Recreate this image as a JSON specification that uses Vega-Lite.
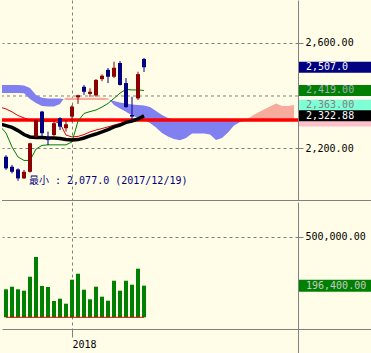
{
  "$schema": "https://vega.github.io/schema/vega-lite/v6.json",
  "padding": 0,
  "background": "#fffde7",
  "spacing": 0,
  "config": {
    "view": {"stroke": null},
    "axis": {"labelFont": "DejaVu Sans Mono", "labelFontSize": 10, "labelColor": "#000000", "domainColor": "#808080", "tickColor": "#808080", "gridColor": "#808080", "gridDash": [3, 3], "gridOpacity": 1}
  },
  "datasets": {
    "candles": [
      {"idx": 0, "date": "2017-12-15", "open": 2168, "high": 2174, "low": 2118, "close": 2124, "vol": 173700},
      {"idx": 1, "date": "2017-12-18", "open": 2130, "high": 2137, "low": 2105, "close": 2111, "vol": 189800},
      {"idx": 2, "date": "2017-12-19", "open": 2120, "high": 2124, "low": 2077, "close": 2086, "vol": 173700},
      {"idx": 3, "date": "2017-12-20", "open": 2086, "high": 2118, "low": 2084, "close": 2111, "vol": 165000},
      {"idx": 4, "date": "2017-12-21", "open": 2111, "high": 2221, "low": 2108, "close": 2219, "vol": 251800},
      {"idx": 5, "date": "2017-12-22", "open": 2244, "high": 2310, "low": 2242, "close": 2307, "vol": 374000},
      {"idx": 6, "date": "2017-12-25", "open": 2339, "high": 2342, "low": 2244, "close": 2257, "vol": 194200},
      {"idx": 7, "date": "2017-12-26", "open": 2238, "high": 2263, "low": 2212, "close": 2231, "vol": 188000},
      {"idx": 8, "date": "2017-12-27", "open": 2250, "high": 2307, "low": 2247, "close": 2295, "vol": 101100},
      {"idx": 9, "date": "2017-12-28", "open": 2314, "high": 2317, "low": 2269, "close": 2282, "vol": 115400},
      {"idx": 10, "date": "2017-12-29", "open": 2276, "high": 2307, "low": 2263, "close": 2291, "vol": 84400},
      {"idx": 11, "date": "2018-01-04", "open": 2320, "high": 2364, "low": 2301, "close": 2358, "vol": 233200},
      {"idx": 12, "date": "2018-01-05", "open": 2393, "high": 2403, "low": 2368, "close": 2401, "vol": 270400},
      {"idx": 13, "date": "2018-01-09", "open": 2433, "high": 2440, "low": 2402, "close": 2414, "vol": 171200},
      {"idx": 14, "date": "2018-01-10", "open": 2406, "high": 2427, "low": 2395, "close": 2414, "vol": 111700},
      {"idx": 15, "date": "2018-01-11", "open": 2400, "high": 2462, "low": 2395, "close": 2459, "vol": 189800},
      {"idx": 16, "date": "2018-01-12", "open": 2462, "high": 2480, "low": 2454, "close": 2475, "vol": 127800},
      {"idx": 17, "date": "2018-01-15", "open": 2497, "high": 2504, "low": 2447, "close": 2471, "vol": 103000},
      {"idx": 18, "date": "2018-01-16", "open": 2471, "high": 2528, "low": 2466, "close": 2505, "vol": 227000},
      {"idx": 19, "date": "2018-01-17", "open": 2523, "high": 2531, "low": 2438, "close": 2440, "vol": 165000},
      {"idx": 20, "date": "2018-01-18", "open": 2447, "high": 2466, "low": 2354, "close": 2356, "vol": 227000},
      {"idx": 21, "date": "2018-01-19", "open": 2326, "high": 2395, "low": 2301, "close": 2320, "vol": 202200},
      {"idx": 22, "date": "2018-01-22", "open": 2389, "high": 2490, "low": 2383, "close": 2481, "vol": 301500},
      {"idx": 23, "date": "2018-01-23", "open": 2538, "high": 2542, "low": 2489, "close": 2507, "vol": 196400}
    ],
    "lines": [
      {"idx": -1, "black": 2292, "red": 2356, "green": 2284},
      {"idx": 0, "black": 2286, "red": 2349, "green": 2258},
      {"idx": 1, "black": 2279, "red": 2338, "green": 2205},
      {"idx": 2, "black": 2267, "red": 2324, "green": 2167},
      {"idx": 3, "black": 2252, "red": 2315, "green": 2154},
      {"idx": 4, "black": 2243, "red": 2307, "green": 2154},
      {"idx": 5, "black": 2241, "red": 2303, "green": 2197},
      {"idx": 6, "black": 2241, "red": 2303, "green": 2211},
      {"idx": 7, "black": 2239, "red": 2302, "green": 2213},
      {"idx": 8, "black": 2239, "red": 2302, "green": 2213},
      {"idx": 9, "black": 2237, "red": 2294, "green": 2213},
      {"idx": 10, "black": 2233, "red": 2250, "green": 2213},
      {"idx": 11, "black": 2231, "red": 2243, "green": 2224},
      {"idx": 12, "black": 2233, "red": 2245, "green": 2303},
      {"idx": 13, "black": 2239, "red": 2252, "green": 2332},
      {"idx": 14, "black": 2247, "red": 2262, "green": 2339},
      {"idx": 15, "black": 2254, "red": 2269, "green": 2345},
      {"idx": 16, "black": 2262, "red": 2275, "green": 2356},
      {"idx": 17, "black": 2271, "red": 2281, "green": 2370},
      {"idx": 18, "black": 2281, "red": 2288, "green": 2389},
      {"idx": 19, "black": 2288, "red": 2294, "green": 2409},
      {"idx": 20, "black": 2298, "red": 2300, "green": 2423},
      {"idx": 21, "black": 2303, "red": 2303, "green": 2421},
      {"idx": 22, "black": 2311, "red": 2307, "green": 2421},
      {"idx": 23, "black": 2322.88, "red": 2309, "green": 2419}
    ],
    "cloud": [
      {"idx": -1, "top": 2440, "bot": 2409, "seg": "b1"},
      {"idx": 0, "top": 2440, "bot": 2409, "seg": "b1"},
      {"idx": 1, "top": 2440, "bot": 2409, "seg": "b1"},
      {"idx": 2, "top": 2440, "bot": 2409, "seg": "b1"},
      {"idx": 3, "top": 2438, "bot": 2408, "seg": "b1"},
      {"idx": 4, "top": 2428, "bot": 2387, "seg": "b1"},
      {"idx": 5, "top": 2402, "bot": 2372, "seg": "b1"},
      {"idx": 6, "top": 2391, "bot": 2360, "seg": "b1"},
      {"idx": 7, "top": 2389, "bot": 2358, "seg": "b1"},
      {"idx": 8, "top": 2389, "bot": 2358, "seg": "b1"},
      {"idx": 9, "top": 2389, "bot": 2368, "seg": "b1"},
      {"idx": 9.6, "top": 2387, "bot": 2387, "seg": "b1"},
      {"idx": 9.6, "top": 2387, "bot": 2387, "seg": "s1"},
      {"idx": 10, "top": 2391, "bot": 2383, "seg": "s1"},
      {"idx": 11, "top": 2391, "bot": 2383, "seg": "s1"},
      {"idx": 12, "top": 2391, "bot": 2383, "seg": "s1"},
      {"idx": 13, "top": 2391, "bot": 2383, "seg": "s1"},
      {"idx": 14, "top": 2391, "bot": 2383, "seg": "s1"},
      {"idx": 15, "top": 2391, "bot": 2383, "seg": "s1"},
      {"idx": 16, "top": 2391, "bot": 2383, "seg": "s1"},
      {"idx": 17, "top": 2390, "bot": 2384, "seg": "s1"},
      {"idx": 17.2, "top": 2385, "bot": 2385, "seg": "s1"},
      {"idx": 17.2, "top": 2385, "bot": 2385, "seg": "b2"},
      {"idx": 18, "top": 2379, "bot": 2364, "seg": "b2"},
      {"idx": 19, "top": 2373, "bot": 2351, "seg": "b2"},
      {"idx": 20, "top": 2370, "bot": 2338, "seg": "b2"},
      {"idx": 21, "top": 2366, "bot": 2324, "seg": "b2"},
      {"idx": 22, "top": 2364, "bot": 2315, "seg": "b2"},
      {"idx": 23, "top": 2362, "bot": 2307, "seg": "b2"},
      {"idx": 24, "top": 2356, "bot": 2296, "seg": "b2"},
      {"idx": 25, "top": 2341, "bot": 2279, "seg": "b2"},
      {"idx": 26, "top": 2326, "bot": 2258, "seg": "b2"},
      {"idx": 27, "top": 2315, "bot": 2245, "seg": "b2"},
      {"idx": 28, "top": 2309, "bot": 2235, "seg": "b2"},
      {"idx": 29, "top": 2307, "bot": 2230, "seg": "b2"},
      {"idx": 30, "top": 2307, "bot": 2239, "seg": "b2"},
      {"idx": 31, "top": 2307, "bot": 2256, "seg": "b2"},
      {"idx": 32, "top": 2307, "bot": 2256, "seg": "b2"},
      {"idx": 33, "top": 2307, "bot": 2256, "seg": "b2"},
      {"idx": 34, "top": 2307, "bot": 2252, "seg": "b2"},
      {"idx": 35, "top": 2307, "bot": 2231, "seg": "b2"},
      {"idx": 36, "top": 2307, "bot": 2239, "seg": "b2"},
      {"idx": 37, "top": 2307, "bot": 2260, "seg": "b2"},
      {"idx": 38, "top": 2307, "bot": 2286, "seg": "b2"},
      {"idx": 39, "top": 2307, "bot": 2300, "seg": "b2"},
      {"idx": 40, "top": 2306, "bot": 2306, "seg": "b2"},
      {"idx": 40, "top": 2306, "bot": 2306, "seg": "s2"},
      {"idx": 41, "top": 2322, "bot": 2305, "seg": "s2"},
      {"idx": 42, "top": 2336, "bot": 2305, "seg": "s2"},
      {"idx": 43, "top": 2347, "bot": 2305, "seg": "s2"},
      {"idx": 44, "top": 2358, "bot": 2305, "seg": "s2"},
      {"idx": 45, "top": 2370, "bot": 2305, "seg": "s2"},
      {"idx": 46, "top": 2360, "bot": 2305, "seg": "s2"},
      {"idx": 47, "top": 2360, "bot": 2305, "seg": "s2"},
      {"idx": 48, "top": 2364, "bot": 2305, "seg": "s2"}
    ],
    "tags": [
      {"series": "other", "v": 2389, "label": "2,389.00"},
      {"series": "span2", "v": 2303, "label": "2,303.00"},
      {"series": "span1", "v": 2363, "label": "2,363.00"},
      {"series": "tenkan", "v": 2419, "label": "2,419.00"},
      {"series": "kijun", "v": 2322.88, "label": "2,322.88"},
      {"series": "close", "v": 2507, "label": "2,507.0"}
    ],
    "voltag": [
      {"series": "volume", "v": 196400, "label": "196,400.00"}
    ],
    "one": [
      {}
    ]
  },
  "vconcat": [
    {
      "width": 296,
      "height": 200,
      "resolve": {"scale": {"color": "independent"}},
      "layer": [
        {
          "data": {"name": "one"},
          "mark": {"type": "rule", "color": "#808080", "strokeWidth": 1, "strokeDash": [3, 3]},
          "encoding": {
            "y": {"datum": 2398.1, "type": "quantitative", "scale": {"domain": [2004.1, 2761.7], "nice": false, "zero": false, "padding": 0}}
          }
        },
        {
          "data": {"name": "cloud"},
          "mark": {"type": "area", "clip": true, "opacity": 1},
          "encoding": {
            "x": {"field": "idx", "type": "quantitative", "scale": {"domain": [-0.6667, 48.6667], "nice": false, "zero": false, "padding": 0},
              "axis": {"orient": "bottom", "values": [11], "labels": false, "ticks": false, "grid": true, "domain": false, "title": null}},
            "y": {"field": "top", "type": "quantitative", "scale": {"domain": [2004.1, 2761.7], "nice": false, "zero": false, "padding": 0},
              "axis": {"orient": "right", "values": [2200, 2600], "format": ",.2f", "grid": true, "tickSize": 5, "labelPadding": 2, "title": null}},
            "y2": {"field": "bot"},
            "color": {"field": "seg", "type": "nominal", "scale": {"domain": ["b1", "s1", "b2", "s2"], "range": ["#8080f0", "#f6ab9c", "#8080f0", "#f6ab9c"]}, "legend": null}
          }
        },
        {
          "data": {"name": "one"},
          "mark": {"type": "rule", "color": "#ff0000", "strokeWidth": 3.5},
          "encoding": {
            "y": {"datum": 2307, "type": "quantitative", "scale": {"domain": [2004.1, 2761.7], "nice": false, "zero": false, "padding": 0}}
          }
        },
        {
          "data": {"name": "lines"},
          "mark": {"type": "line", "clip": true, "color": "#e00000", "strokeWidth": 1},
          "encoding": {
            "x": {"field": "idx", "type": "quantitative", "scale": {"domain": [-0.6667, 48.6667], "nice": false, "zero": false, "padding": 0}},
            "y": {"field": "red", "type": "quantitative", "scale": {"domain": [2004.1, 2761.7], "nice": false, "zero": false, "padding": 0}}
          }
        },
        {
          "data": {"name": "lines"},
          "mark": {"type": "line", "clip": true, "color": "#008000", "strokeWidth": 1},
          "encoding": {
            "x": {"field": "idx", "type": "quantitative", "scale": {"domain": [-0.6667, 48.6667], "nice": false, "zero": false, "padding": 0}},
            "y": {"field": "green", "type": "quantitative", "scale": {"domain": [2004.1, 2761.7], "nice": false, "zero": false, "padding": 0}}
          }
        },
        {
          "data": {"name": "lines"},
          "mark": {"type": "line", "clip": true, "color": "#000000", "strokeWidth": 3.5},
          "encoding": {
            "x": {"field": "idx", "type": "quantitative", "scale": {"domain": [-0.6667, 48.6667], "nice": false, "zero": false, "padding": 0}},
            "y": {"field": "black", "type": "quantitative", "scale": {"domain": [2004.1, 2761.7], "nice": false, "zero": false, "padding": 0}}
          }
        },
        {
          "data": {"name": "candles"},
          "mark": {"type": "rule", "strokeWidth": 1},
          "encoding": {
            "x": {"field": "idx", "type": "quantitative", "scale": {"domain": [-0.6667, 48.6667], "nice": false, "zero": false, "padding": 0}},
            "y": {"field": "low", "type": "quantitative", "scale": {"domain": [2004.1, 2761.7], "nice": false, "zero": false, "padding": 0}},
            "y2": {"field": "high"},
            "color": {"condition": {"test": "datum.close >= datum.open", "value": "#8b0000"}, "value": "#000080"}
          }
        },
        {
          "data": {"name": "candles"},
          "mark": {"type": "bar", "width": 4},
          "encoding": {
            "x": {"field": "idx", "type": "quantitative", "scale": {"domain": [-0.6667, 48.6667], "nice": false, "zero": false, "padding": 0}},
            "y": {"field": "open", "type": "quantitative", "scale": {"domain": [2004.1, 2761.7], "nice": false, "zero": false, "padding": 0}},
            "y2": {"field": "close"},
            "color": {"condition": {"test": "datum.close >= datum.open", "value": "#8b0000"}, "value": "#000080"}
          }
        },
        {
          "data": {"name": "candles"},
          "transform": [{"filter": "datum.idx == 2"}],
          "mark": {"type": "text", "align": "left", "baseline": "middle", "dx": 11, "font": "DejaVu Sans Mono, Noto Sans CJK JP", "fontSize": 10, "color": "#000080"},
          "encoding": {
            "x": {"field": "idx", "type": "quantitative", "scale": {"domain": [-0.6667, 48.6667], "nice": false, "zero": false, "padding": 0}},
            "y": {"field": "low", "type": "quantitative", "scale": {"domain": [2004.1, 2761.7], "nice": false, "zero": false, "padding": 0}},
            "text": {"value": "最小 : 2,077.0 (2017/12/19)"}
          }
        },
        {
          "data": {"name": "one"},
          "mark": {"type": "rule", "color": "#808080", "strokeWidth": 1},
          "encoding": {
            "x": {"datum": -0.6667, "type": "quantitative", "scale": {"domain": [-0.6667, 48.6667], "nice": false, "zero": false, "padding": 0}},
            "x2": {"datum": 62},
            "y": {"datum": 2002.2, "type": "quantitative", "scale": {"domain": [2004.1, 2761.7], "nice": false, "zero": false, "padding": 0}}
          }
        },
        {
          "data": {"name": "tags"},
          "mark": {"type": "tick", "orient": "horizontal", "size": 75, "thickness": 11, "opacity": 1},
          "encoding": {
            "x": {"datum": 55.083, "type": "quantitative", "scale": {"domain": [-0.6667, 48.6667], "nice": false, "zero": false, "padding": 0}},
            "y": {"field": "v", "type": "quantitative", "scale": {"domain": [2004.1, 2761.7], "nice": false, "zero": false, "padding": 0}},
            "color": {"field": "series", "type": "nominal", "scale": {"domain": ["other", "span2", "span1", "tenkan", "kijun", "close"], "range": ["#fbfbef", "#ffc0cb", "#7fffd4", "#008000", "#000000", "#000080"]}, "legend": null}
          }
        },
        {
          "data": {"name": "tags"},
          "transform": [{"filter": "datum.series != 'other' && datum.series != 'span2'"}],
          "mark": {"type": "text", "align": "left", "baseline": "middle", "font": "DejaVu Sans Mono", "fontSize": 10},
          "encoding": {
            "x": {"datum": 50, "type": "quantitative", "scale": {"domain": [-0.6667, 48.6667], "nice": false, "zero": false, "padding": 0}},
            "y": {"field": "v", "type": "quantitative", "scale": {"domain": [2004.1, 2761.7], "nice": false, "zero": false, "padding": 0}},
            "text": {"field": "label"},
            "color": {"field": "series", "type": "nominal", "scale": {"domain": ["span1", "tenkan", "kijun", "close"], "range": ["#808080", "#a8a8c0", "#ffffff", "#ffffff"]}, "legend": null}
          }
        }
      ]
    },
    {
      "width": 296,
      "height": 127,
      "layer": [
        {
          "data": {"name": "candles"},
          "mark": {"type": "bar", "width": 4, "color": "#008000"},
          "encoding": {
            "x": {"field": "idx", "type": "quantitative", "scale": {"domain": [-0.6667, 48.6667], "nice": false, "zero": false, "padding": 0},
              "axis": {"orient": "bottom", "values": [11], "labelExpr": "'2018'", "labelAlign": "left", "labelBaseline": "top", "tickSize": 8, "labelPadding": 2, "grid": true, "title": null}},
            "y": {"field": "vol", "type": "quantitative", "scale": {"domain": [-72575, 715250], "nice": false, "zero": false, "padding": 0},
              "axis": {"orient": "right", "values": [500000], "format": ",.2f", "grid": true, "tickSize": 5, "labelPadding": 2, "title": null}},
            "y2": {"datum": 0}
          }
        },
        {
          "data": {"name": "candles"},
          "mark": {"type": "line", "color": "#e00000", "strokeWidth": 1},
          "encoding": {
            "x": {"field": "idx", "type": "quantitative", "scale": {"domain": [-0.6667, 48.6667], "nice": false, "zero": false, "padding": 0}},
            "y": {"datum": 0, "type": "quantitative", "scale": {"domain": [-72575, 715250], "nice": false, "zero": false, "padding": 0}}
          }
        },
        {
          "data": {"name": "one"},
          "mark": {"type": "rule", "color": "#808080", "strokeWidth": 1},
          "encoding": {
            "x": {"datum": 48.6667, "type": "quantitative", "scale": {"domain": [-0.6667, 48.6667], "nice": false, "zero": false, "padding": 0}},
            "x2": {"datum": 62},
            "y": {"datum": -75677, "type": "quantitative", "scale": {"domain": [-72575, 715250], "nice": false, "zero": false, "padding": 0}}
          }
        },
        {
          "data": {"name": "one"},
          "mark": {"type": "rule", "color": "#808080", "strokeWidth": 1},
          "encoding": {
            "x": {"datum": 48.75, "type": "quantitative", "scale": {"domain": [-0.6667, 48.6667], "nice": false, "zero": false, "padding": 0}},
            "y": {"datum": -72575, "type": "quantitative", "scale": {"domain": [-72575, 715250], "nice": false, "zero": false, "padding": 0}},
            "y2": {"datum": -227650}
          }
        },
        {
          "data": {"name": "voltag"},
          "mark": {"type": "tick", "orient": "horizontal", "size": 75, "thickness": 12, "opacity": 1, "color": "#008000"},
          "encoding": {
            "x": {"datum": 55.083, "type": "quantitative", "scale": {"domain": [-0.6667, 48.6667], "nice": false, "zero": false, "padding": 0}},
            "y": {"field": "v", "type": "quantitative", "scale": {"domain": [-72575, 715250], "nice": false, "zero": false, "padding": 0}}
          }
        },
        {
          "data": {"name": "voltag"},
          "mark": {"type": "text", "align": "left", "baseline": "middle", "font": "DejaVu Sans Mono", "fontSize": 10, "color": "#c8c8c8"},
          "encoding": {
            "x": {"datum": 50, "type": "quantitative", "scale": {"domain": [-0.6667, 48.6667], "nice": false, "zero": false, "padding": 0}},
            "y": {"field": "v", "type": "quantitative", "scale": {"domain": [-72575, 715250], "nice": false, "zero": false, "padding": 0}},
            "text": {"field": "label"}
          }
        }
      ]
    }
  ]
}
